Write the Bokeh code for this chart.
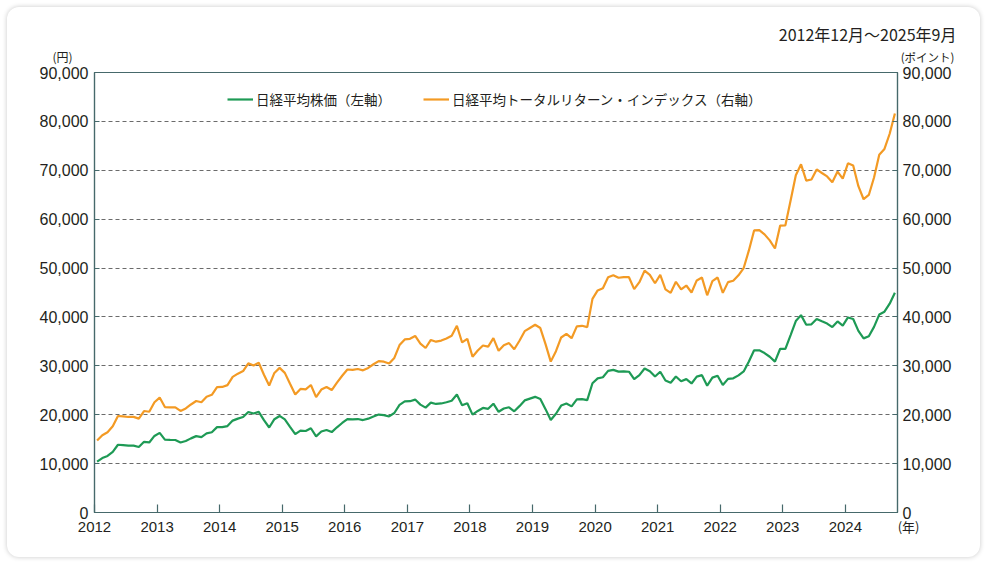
from bokeh.plotting import figure
from bokeh.models import (Range1d, LinearAxis, FixedTicker, NumeralTickFormatter,
                          Legend, LegendItem, Title)
from bokeh.embed import file_html
from bokeh.resources import INLINE

# Monthly values, 2012-12 .. 2025-09
nikkei = [10395,
          11138, 11559, 12398, 13860, 13775, 13677, 13668, 13389, 14456, 14328, 15662, 16291,
          14915, 14841, 14828, 14304, 14632, 15162, 15621, 15425, 16174, 16414, 17460, 17451,
          17674, 18798, 19207, 19520, 20563, 20236, 20585, 18890, 17388, 19083, 19747, 19034,
          17518, 16027, 16759, 16666, 17235, 15576, 16569, 16887, 16450, 17425, 18308, 19114,
          19041, 19119, 18909, 19197, 19651, 20033, 19925, 19646, 20356, 22012, 22725, 22765,
          23098, 22068, 21454, 22468, 22202, 22305, 22554, 22865, 24120, 21920, 22351, 20015,
          20773, 21385, 21206, 22259, 20601, 21276, 21522, 20704, 21756, 22927, 23294, 23657,
          23205, 21143, 18917, 20194, 21878, 22288, 21710, 23140, 23185, 22977, 26434, 27444,
          27663, 28966, 29179, 28813, 28860, 28792, 27284, 28090, 29453, 28893, 27822, 28792,
          27002, 26527, 27821, 26848, 27280, 26393, 27802, 28092, 25937, 27587, 27969, 26095,
          27327, 27446, 28041, 28856, 30888, 33189, 33172, 32619, 31858, 30859, 33487, 33464,
          36287, 39166, 40369, 38406, 38488, 39583, 39102, 38648, 37920, 39081, 38208, 39895,
          39572, 37156, 35618, 36045, 37965, 40487, 41070, 42718, 44933]

total_return = [14710,
                15790, 16410, 17630, 19740, 19650, 19540, 19560, 19200, 20760, 20610, 22560, 23510,
                21560, 21490, 21500, 20780, 21290, 22100, 22800, 22550, 23690, 24080, 25650, 25680,
                26050, 27750, 28400, 28920, 30510, 30080, 30640, 28170, 25970, 28550, 29590, 28560,
                26330, 24130, 25270, 25180, 26080, 23610, 25150, 25680, 25050, 26580, 27970, 29250,
                29190, 29360, 29080, 29570, 30320, 30960, 30850, 30460, 31620, 34240, 35410, 35530,
                36110, 34560, 33650, 35300, 34940, 35160, 35610, 36160, 38200, 34780, 35520, 31860,
                33120, 34150, 33920, 35660, 33060, 34200, 34650, 33390, 35140, 37090, 37750, 38400,
                37730, 34430, 30860, 32990, 35800, 36540, 35650, 38060, 38190, 37910, 43690, 45430,
                45870, 48110, 48540, 48010, 48160, 48130, 45680, 47110, 49480, 48620, 46890, 48600,
                45650, 44930, 47200, 45620, 46430, 45000, 47470, 48050, 44430, 47340, 48070, 44920,
                47120, 47400, 48510, 50000, 53610, 57700, 57760, 56890, 55660, 54000, 58690, 58750,
                63810, 68980, 71220, 67870, 68120, 70180, 69440, 68740, 67560, 69740, 68290, 71420,
                70960, 66740, 64080, 64950, 68520, 73190, 74360, 77470, 81620]

year_ticks = [2012, 2013, 2014, 2015, 2016, 2017, 2018, 2019, 2020, 2021, 2022, 2023, 2024]
y_ticks = [0, 10000, 20000, 30000, 40000, 50000, 60000, 70000, 80000, 90000]

series_names = ["日経平均株価（左軸）", "日経平均トータルリターン・インデックス（右軸）"]
period_text = "2012年12月～2025年9月"
left_unit = "(円)"
right_unit = "(ポイント)"
x_unit = "(年)"

GREEN = "#1e9a55"
ORANGE = "#f39a24"
AXIS = "#46696b"
TEXT = "#231f20"
JP = "Noto Sans CJK JP"
LAT = "Liberation Sans"

x = [2012 + (i + 0.5) / 12 for i in range(len(nikkei))]

p = figure(width=973, height=550, output_backend="svg", toolbar_location=None,
           x_range=Range1d(2012, 2012 + len(nikkei) / 12),
           y_range=Range1d(0, 90000),
           min_border_left=87, min_border_right=83, min_border_top=65, min_border_bottom=45)
p.margin = (7, 0, 0, 7)
p.extra_y_ranges = {"right": Range1d(0, 90000)}
p.border_fill_color = None
p.background_fill_color = None
p.styles = {"background-color": "white", "border-radius": "12px",
            "box-shadow": "0 0 5px rgba(0,0,0,0.22)"}
p.outline_line_color = AXIS
p.outline_line_width = 1.2

g = p.line(x, nikkei, line_color=GREEN, line_width=2.2)
o = p.line(x, total_return, line_color=ORANGE, line_width=2.2, y_range_name="right")

right_axis = LinearAxis(y_range_name="right")
p.add_layout(right_axis, "right")

for ax in [p.yaxis[0], right_axis]:
    ax.ticker = FixedTicker(ticks=y_ticks, minor_ticks=[])
    ax.formatter = NumeralTickFormatter(format="0,0")
    ax.major_tick_in = 5
    ax.major_tick_out = 0
    ax.minor_tick_in = 0
    ax.minor_tick_out = 0
    ax.axis_line_color = AXIS
    ax.axis_line_width = 1.2
    ax.major_tick_line_color = AXIS
    ax.major_tick_line_width = 1.2
    ax.major_label_text_font = LAT
    ax.major_label_text_font_size = "16px"
    ax.major_label_text_color = TEXT
p.yaxis[0].major_label_standoff = 6
right_axis.major_label_standoff = 5

xa = p.xaxis[0]
xa.ticker = FixedTicker(ticks=year_ticks, minor_ticks=[])
xa.major_tick_in = 8
xa.major_tick_out = 0
xa.minor_tick_in = 0
xa.minor_tick_out = 0
xa.axis_line_color = AXIS
xa.axis_line_width = 1.2
xa.major_tick_line_color = AXIS
xa.major_tick_line_width = 1.2
xa.major_label_text_font = LAT
xa.major_label_text_font_size = "15px"
xa.major_label_text_color = TEXT
xa.major_label_standoff = 9

p.xgrid.visible = False
p.ygrid.grid_line_color = "#6b6b6b"
p.ygrid.grid_line_dash = "4 3"
p.ygrid.grid_line_width = 1

legend = Legend(items=[LegendItem(label=series_names[0], renderers=[g]),
                       LegendItem(label=series_names[1], renderers=[o])],
                orientation="horizontal", location=(133, 403),
                label_text_font=JP, label_text_font_size="13.5px", label_text_color=TEXT,
                glyph_width=26, glyph_height=16, label_standoff=3, spacing=32,
                padding=0, margin=0, border_line_color=None, background_fill_alpha=0)
p.add_layout(legend, "center")

# texts outside the plot frame, as titles in the side panels
common = dict(text_font=JP, text_font_style="normal", text_color=TEXT)
p.add_layout(Title(text=left_unit, align="left", offset=-42, standoff=16,
                   text_font_size="12px", **common), "above")
p.add_layout(Title(text=right_unit, align="right", offset=-57, standoff=-54,
                   text_font_size="11.5px", **common), "above")
p.add_layout(Title(text=period_text, align="right", offset=-59, standoff=-17,
                   text_font_size="16px", **common), "above")
p.add_layout(Title(text=x_unit, align="right", offset=-22, standoff=-35, vertical_align="top",
                   text_font_size="13px", **common), "below")

open("out.html", "w").write(file_html(p, INLINE))
